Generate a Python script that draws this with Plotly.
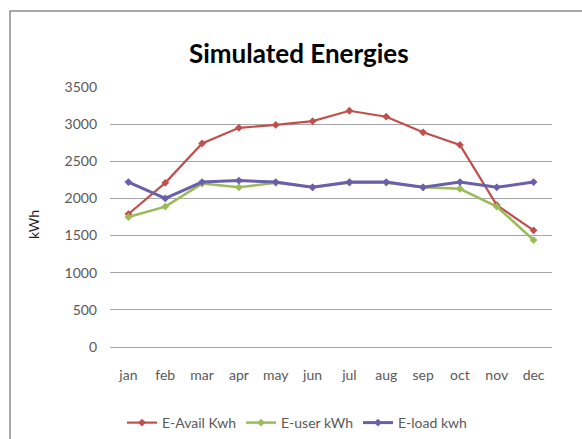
import plotly.graph_objects as go

months = ["jan", "feb", "mar", "apr", "may", "jun", "jul", "aug", "sep", "oct", "nov", "dec"]
e_avail = [1790, 2210, 2740, 2950, 2990, 3040, 3180, 3100, 2890, 2720, 1910, 1570]
e_user = [1750, 1890, 2200, 2150, 2210, 2150, 2210, 2210, 2150, 2130, 1890, 1440]
e_load = [2220, 2000, 2220, 2240, 2220, 2150, 2220, 2220, 2150, 2220, 2150, 2220]
y_ticks = [0, 500, 1000, 1500, 2000, 2500, 3000, 3500]

FONT = "Lato, sans-serif"
W, H = 582, 439
L, R, T, B = 110, 30, 87, 92
pw, ph = W - L - R, H - T - B

fig = go.Figure()
series = [
    ("E-Avail Kwh", e_avail, "#C0504D", 2.2),
    ("E-user kWh", e_user, "#9BBB59", 2.5),
    ("E-load kwh", e_load, "#6A5FAA", 3),
]
for name, vals, col, lw in series:
    fig.add_trace(go.Scatter(
        x=months, y=vals, name=name, mode="lines+markers",
        line=dict(color=col, width=lw),
        marker=dict(symbol="diamond", size=6, color=col),
    ))

def px_x(p):
    return (p - L) / pw

def px_y(p):
    return (H - B - p) / ph

fig.update_layout(
    width=W, height=H,
    margin=dict(l=L, r=R, t=T, b=B),
    paper_bgcolor="white", plot_bgcolor="white",
    font=dict(family=FONT, size=14, color="#595959"),
    showlegend=True,
    legend=dict(orientation="h", xref="container", yref="container",
                x=297 / W, xanchor="center", y=1 - 423 / H, yanchor="middle",
                font=dict(size=14, color="#595959"), itemwidth=30,
                tracegroupgap=0, bgcolor="rgba(0,0,0,0)"),
    xaxis=dict(type="category", range=[-0.5, 11.5], showgrid=False,
               showline=False, ticks="", ticklabelstandoff=18,
               tickfont=dict(size=14, color="#595959")),
    yaxis=dict(range=[0, 3500], tickvals=y_ticks, showgrid=True,
               gridcolor="#A6A6A6", gridwidth=1, zeroline=True,
               zerolinecolor="#A6A6A6", zerolinewidth=1, showline=False,
               ticks="", ticklabelstandoff=12,
               tickfont=dict(size=14, color="#595959")),
    annotations=[
        dict(text="<b>Simulated Energies</b>", xref="paper", yref="paper",
             x=px_x(299), y=px_y(53), xanchor="center", yanchor="middle",
             showarrow=False, font=dict(family=FONT, size=26, color="#000000")),
        dict(text="kWh", xref="paper", yref="paper", x=px_x(33), y=px_y(225),
             xanchor="center", yanchor="middle", textangle=-90, showarrow=False,
             font=dict(family=FONT, size=14, color="#222222")),
    ],
    shapes=[
        dict(type="rect", xref="paper", yref="paper",
             x0=px_x(10), y0=px_y(460), x1=px_x(620), y1=px_y(11),
             line=dict(color="#8C8C8C", width=1.5), fillcolor="rgba(0,0,0,0)",
             layer="below"),
    ],
)

fig.write_html("out.html", config={"displayModeBar": False},
               post_script="document.body.style.margin='0';")
